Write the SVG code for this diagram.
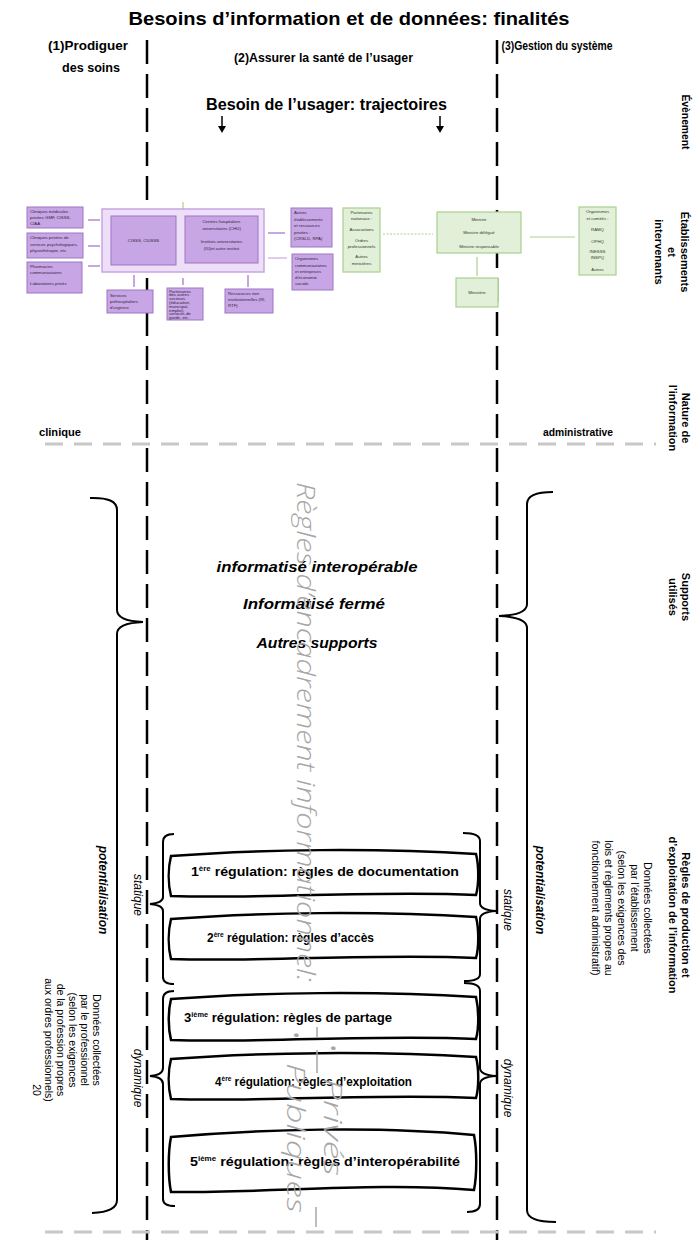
<svg xmlns="http://www.w3.org/2000/svg" width="698" height="1243" viewBox="0 0 698 1243">
<style>
text{font-family:"Liberation Sans",Arial,sans-serif;fill:#000}
.b{font-weight:bold}
.h{font-weight:bold;font-size:12px}
.lab{font-weight:bold;font-size:11px}
.it{font-style:italic;font-size:12px}
.bi{font-weight:bold;font-style:italic;font-size:14px}
.pot{font-weight:bold;font-style:italic;font-size:12px}
.reg{font-weight:bold;font-size:12.5px}
.dat{font-size:10.5px}
.nt{font-size:4.3px;fill:#2d1f3a}
.ng{font-size:4.3px;fill:#2f3b28}
.bp{fill:#c8a6e5;stroke:#9d74c7;stroke-width:1}
.bbig{fill:#eedff8;stroke:#c7a4e3;stroke-width:1.5}
.bg{fill:#e2efd9;stroke:#a9d18e;stroke-width:1.2}
.vd{stroke:#000;stroke-width:2.5;stroke-dasharray:24 10;fill:none}
.hd{stroke:#c8c8c8;stroke-width:3;stroke-dasharray:18 11;fill:none}
.br{stroke:#000;stroke-width:2;fill:none}
.cp{stroke:#b48ad8;stroke-width:1.5}
.cg{stroke:#a9d18e;stroke-width:1.2}
.wave{fill:#fff;stroke:#000;stroke-width:2.5}
.wm{font-family:"Open Sans","Liberation Sans",sans-serif;font-style:italic;font-weight:300;fill:#a6a6a6;font-size:25px}
</style>

<g id="lanes">
<line class="vd" x1="147" y1="40" x2="147" y2="1240"/>
<line class="vd" x1="497" y1="40" x2="497" y2="1240"/>
<line class="hd" x1="45" y1="444" x2="656" y2="444"/>
<line class="hd" x1="45" y1="1232" x2="656" y2="1232"/>
</g>

<g id="headers">
<text class="b" x="349" y="25" font-size="19" text-anchor="middle" textLength="441" lengthAdjust="spacingAndGlyphs">Besoins d’information et de données: finalités</text>
<text class="h" x="88" y="50" text-anchor="middle" textLength="80" lengthAdjust="spacingAndGlyphs">(1)Prodiguer</text>
<text class="h" x="91" y="72" text-anchor="middle" textLength="58" lengthAdjust="spacingAndGlyphs">des soins</text>
<text class="h" x="323.5" y="62" text-anchor="middle" textLength="179" lengthAdjust="spacingAndGlyphs">(2)Assurer la santé de l’usager</text>
<text class="h" x="557" y="50" text-anchor="middle" textLength="111" lengthAdjust="spacingAndGlyphs">(3)Gestion du système</text>
<text class="b" x="326.5" y="110" font-size="17" text-anchor="middle" textLength="241" lengthAdjust="spacingAndGlyphs">Besoin de l’usager: trajectoires</text>
</g>

<g id="arrows">
<line x1="222" y1="116" x2="222" y2="127" stroke="#000" stroke-width="1.5"/>
<polygon points="218,126 226,126 222,133" fill="#000"/>
<line x1="440" y1="116" x2="440" y2="127" stroke="#000" stroke-width="1.5"/>
<polygon points="436,126 444,126 440,133" fill="#000"/>
</g>

<g id="row-labels">
<text class="lab" transform="translate(682,122) rotate(90)" text-anchor="middle" textLength="55" lengthAdjust="spacingAndGlyphs">Évènement</text>
<text class="lab" transform="translate(681,252) rotate(90)" text-anchor="middle">Établissements</text>
<text class="lab" transform="translate(668,252) rotate(90)" text-anchor="middle">et</text>
<text class="lab" transform="translate(655,252) rotate(90)" text-anchor="middle">intervenants</text>
<text class="lab" transform="translate(682,418) rotate(90)" text-anchor="middle">Nature de</text>
<text class="lab" transform="translate(669,418) rotate(90)" text-anchor="middle">l’information</text>
<text class="lab" transform="translate(682,597) rotate(90)" text-anchor="middle">Supports</text>
<text class="lab" transform="translate(669,597) rotate(90)" text-anchor="middle">utilisés</text>
<text class="lab" transform="translate(682,915) rotate(90)" text-anchor="middle">Règles de production et</text>
<text class="lab" transform="translate(669,915) rotate(90)" text-anchor="middle">d’exploitation de  l’information</text>
</g>

<g id="connectors">
<line class="cp" x1="88" y1="220" x2="100" y2="220"/>
<line class="cp" x1="88" y1="246" x2="100" y2="246"/>
<line class="cp" x1="88" y1="266" x2="100" y2="266"/>
<line class="cp" x1="134" y1="275" x2="134" y2="287"/>
<line class="cp" x1="183" y1="278" x2="183" y2="285"/>
<line class="cp" x1="248" y1="275" x2="248" y2="287"/>
<line class="cp" x1="268" y1="233" x2="285" y2="233"/>
<line class="cp" x1="268" y1="258" x2="287" y2="258" stroke-opacity="0.6"/>
<line class="cg" x1="183" y1="202" x2="183" y2="209"/>
<line class="cg" x1="383" y1="234" x2="433" y2="234" stroke-dasharray="2 1.5"/>
<line class="cg" x1="477" y1="257" x2="477" y2="276"/>
<line class="cg" x1="530" y1="237" x2="575" y2="237" stroke-width="1.5"/>
</g>

<g id="n-cliniques-med">
<rect class="bp" x="27" y="207" width="56" height="21"/>
<text class="nt" x="30" y="213">Cliniques médicales</text>
<text class="nt" x="30" y="219">privées GMF, CISSS,</text>
<text class="nt" x="30" y="225">CIAA</text>
</g>
<g id="n-cliniques-psy">
<rect class="bp" x="27" y="233" width="56" height="25"/>
<text class="nt" x="30" y="239">Cliniques privées de</text>
<text class="nt" x="30" y="246">services psychologiques,</text>
<text class="nt" x="30" y="252">physiothérapie, etc.</text>
</g>
<g id="n-pharmacies">
<rect class="bp" x="27" y="262" width="55" height="31"/>
<text class="nt" x="30" y="268">Pharmacies</text>
<text class="nt" x="30" y="274">communautaires</text>
<text class="nt" x="30" y="285">Laboratoires privés</text>
</g>
<g id="n-reseau">
<rect class="bbig" x="102" y="209" width="162" height="63"/>
</g>
<g id="n-cisss">
<rect class="bp" x="111" y="216" width="65" height="49"/>
<text class="nt" x="143.5" y="242" text-anchor="middle">CISSS, CIUSSS</text>
</g>
<g id="n-chu">
<rect class="bp" x="185" y="216" width="73" height="47"/>
<text class="nt" x="221.5" y="223" text-anchor="middle">Centres hospitaliers</text>
<text class="nt" x="221.5" y="230" text-anchor="middle">universitaires (CHU)</text>
<text class="nt" x="221.5" y="243" text-anchor="middle">Instituts universitaires</text>
<text class="nt" x="221.5" y="250" text-anchor="middle">(IU)et autre institut</text>
</g>
<g id="n-prehosp">
<rect class="bp" x="107" y="290" width="46" height="23"/>
<text class="nt" x="110" y="297">Services</text>
<text class="nt" x="110" y="303">préhospitaliers</text>
<text class="nt" x="110" y="309">d’urgence</text>
</g>
<g id="n-partenaires">
<rect class="bp" x="167" y="288" width="36" height="32"/>
<text class="nt" x="169" y="292.5" font-size="3.6">Partenaires</text>
<text class="nt" x="169" y="296.3" font-size="3.6">des autres</text>
<text class="nt" x="169" y="300.1" font-size="3.6">secteurs</text>
<text class="nt" x="169" y="303.9" font-size="3.6">(éducation,</text>
<text class="nt" x="169" y="307.7" font-size="3.6">municipal,</text>
<text class="nt" x="169" y="311.5" font-size="3.6">emploi),</text>
<text class="nt" x="169" y="315.3" font-size="3.6">services de</text>
<text class="nt" x="169" y="319.1" font-size="3.6">garde, etc.</text>
</g>
<g id="n-ressources">
<rect class="bp" x="225" y="289" width="48" height="24"/>
<text class="nt" x="228" y="295">Ressources non</text>
<text class="nt" x="228" y="301">institutionnelles (RI,</text>
<text class="nt" x="228" y="307">RTF)</text>
</g>
<g id="n-autres-etab">
<rect class="bp" x="291" y="208" width="41" height="39"/>
<text class="nt" x="294" y="214">Autres</text>
<text class="nt" x="294" y="220.5">établissements</text>
<text class="nt" x="294" y="227">et ressources</text>
<text class="nt" x="294" y="233.5">privées :</text>
<text class="nt" x="294" y="240">(CRSLD, RPA)</text>
</g>
<g id="n-organismes-comm">
<rect class="bp" x="292" y="254" width="41" height="36"/>
<text class="nt" x="295" y="260">Organismes</text>
<text class="nt" x="295" y="266.5">communautaires</text>
<text class="nt" x="295" y="273">et entreprises</text>
<text class="nt" x="295" y="279">d’économie</text>
<text class="nt" x="295" y="285">sociale</text>
</g>
<g id="n-partenaires-nat">
<rect class="bg" x="343" y="208" width="37" height="64"/>
<text class="ng" x="361.5" y="214" text-anchor="middle">Partenaires</text>
<text class="ng" x="361.5" y="220" text-anchor="middle">nationaux :</text>
<text class="ng" x="361.5" y="231" text-anchor="middle">Associations</text>
<text class="ng" x="361.5" y="242" text-anchor="middle">Ordres</text>
<text class="ng" x="361.5" y="248" text-anchor="middle">professionnels</text>
<text class="ng" x="361.5" y="258" text-anchor="middle">Autres</text>
<text class="ng" x="361.5" y="264.5" text-anchor="middle">ministères</text>
</g>
<g id="n-ministre">
<rect class="bg" x="437" y="212" width="84" height="41"/>
<text class="ng" x="479" y="221" text-anchor="middle" font-size="5.5">Ministre</text>
<text class="ng" x="479" y="234" text-anchor="middle" font-size="5.5">Ministre délégué</text>
<text class="ng" x="479" y="248" text-anchor="middle" font-size="5.5">Ministre responsable</text>
</g>
<g id="n-ministere">
<rect class="bg" x="456" y="278" width="42" height="29"/>
<text class="ng" x="477" y="294" text-anchor="middle" font-size="5">Ministère</text>
</g>
<g id="n-organismes-comites">
<rect class="bg" x="579" y="207" width="37" height="68"/>
<text class="ng" x="597.5" y="213" text-anchor="middle" font-size="3.8">Organismes</text>
<text class="ng" x="597.5" y="219.5" text-anchor="middle" font-size="3.8">et comités :</text>
<text class="ng" x="597.5" y="231" text-anchor="middle" font-size="3.8">RAMQ</text>
<text class="ng" x="597.5" y="242.5" text-anchor="middle" font-size="3.8">OPHQ</text>
<text class="ng" x="597.5" y="252.5" text-anchor="middle" font-size="3.8">INESSS</text>
<text class="ng" x="597.5" y="258.5" text-anchor="middle" font-size="3.8">INSPQ</text>
<text class="ng" x="597.5" y="271" text-anchor="middle" font-size="3.8">Autres</text>
</g>

<g id="nature">
<text class="lab" x="60" y="436" text-anchor="middle" textLength="42" lengthAdjust="spacingAndGlyphs">clinique</text>
<text class="lab" x="578" y="436" text-anchor="middle" textLength="70" lengthAdjust="spacingAndGlyphs">administrative</text>
</g>

<g id="supports">
<text class="bi" x="317" y="572" text-anchor="middle" textLength="201" lengthAdjust="spacingAndGlyphs">informatisé  interopérable</text>
<text class="bi" x="314" y="609" text-anchor="middle" textLength="142" lengthAdjust="spacingAndGlyphs">Informatisé  fermé</text>
<text class="bi" x="317" y="648" text-anchor="middle" textLength="121" lengthAdjust="spacingAndGlyphs">Autres supports</text>
</g>

<g id="braces">
<path class="br" d="M 90,498 Q 117,497 117,510 L 117,610 Q 117,621 143,622 Q 117,623 117,634 L 117,1200 Q 117,1212 92,1213"/>
<path class="br" d="M 553,492 Q 527,492 527,504 L 527,604 Q 527,615 499,616 Q 527,617 527,628 L 527,1210 Q 527,1222 556,1222"/>
<path class="br" d="M 174,834 Q 163,834 163,842 L 163,897 Q 163,903 150,904 Q 163,905 163,911 L 163,977 Q 163,984 174,984"/>
<path class="br" d="M 174,991 Q 163,991 163,999 L 163,1068 Q 163,1075 150,1076 Q 163,1077 163,1084 L 163,1199 Q 163,1206 175,1206"/>
<path class="br" d="M 463,833 Q 480,833 480,841 L 480,903 Q 480,910 496,911 Q 480,912 480,919 L 480,974 Q 480,981 464,981"/>
<path class="br" d="M 464,983 Q 480,983 480,991 L 480,1068 Q 480,1075 496,1076 Q 480,1077 480,1084 L 480,1204 Q 480,1212 467,1212"/>
</g>

<g id="side-texts">
<text class="pot" transform="translate(99,890) rotate(90)" text-anchor="middle">potentialisation</text>
<text class="pot" transform="translate(536,890) rotate(90)" text-anchor="middle">potentialisation</text>
<text class="it" transform="translate(134,895) rotate(90)" text-anchor="middle">statique</text>
<text class="it" transform="translate(134,1078) rotate(90)" text-anchor="middle">dynamique</text>
<text class="it" transform="translate(504,910) rotate(90)" text-anchor="middle">statique</text>
<text class="it" transform="translate(504,1088) rotate(90)" text-anchor="middle">dynamique</text>
<text class="dat" transform="translate(93,1040) rotate(90)" text-anchor="middle">Données collectées</text>
<text class="dat" transform="translate(81,1040) rotate(90)" text-anchor="middle">par le professionnel</text>
<text class="dat" transform="translate(69,1040) rotate(90)" text-anchor="middle">(selon les exigences</text>
<text class="dat" transform="translate(57,1040) rotate(90)" text-anchor="middle">de la profession propres</text>
<text class="dat" transform="translate(45,1040) rotate(90)" text-anchor="middle">aux ordres professionnels)</text>
<text class="dat" transform="translate(33,1090) rotate(90)" text-anchor="middle">20</text>
<text class="dat" transform="translate(644,908) rotate(90)" text-anchor="middle">Données collectées</text>
<text class="dat" transform="translate(631,908) rotate(90)" text-anchor="middle">par l’établissement</text>
<text class="dat" transform="translate(618,908) rotate(90)" text-anchor="middle">(selon les exigences des</text>
<text class="dat" transform="translate(605,908) rotate(90)" text-anchor="middle">lois et règlements propres au</text>
<text class="dat" transform="translate(592,908) rotate(90)" text-anchor="middle">fonctionnement administratif)</text>
</g>

<g id="reg1">
<path class="wave" d="M 171,856 C 260,849 380,848 476,854 C 479,866 479,884 476,895 C 380,890 270,899 171,896 C 168,884 168,868 171,856 Z"/>
<text class="reg" x="325" y="876" text-anchor="middle" textLength="268" lengthAdjust="spacingAndGlyphs">1<tspan font-size="7" dy="-5">ère</tspan><tspan dy="5"> régulation: règles de documentation</tspan></text>
</g>
<g id="reg2">
<path class="wave" d="M 171,919 C 260,912 380,911 476,917 C 479,929 479,947 476,958 C 380,953 270,962 171,959 C 168,947 168,931 171,919 Z"/>
<text class="reg" x="290.5" y="942" text-anchor="middle" textLength="167" lengthAdjust="spacingAndGlyphs">2<tspan font-size="7" dy="-5">ère</tspan><tspan dy="5"> régulation: règles d’accès</tspan></text>
</g>
<g id="reg3">
<path class="wave" d="M 171,999 C 260,992 380,991 476,997 C 479,1010 479,1028 476,1039 C 380,1034 270,1043 171,1040 C 168,1028 168,1011 171,999 Z"/>
<text class="reg" x="288" y="1022" text-anchor="middle" textLength="208" lengthAdjust="spacingAndGlyphs">3<tspan font-size="7" dy="-5">ième</tspan><tspan dy="5"> régulation: règles de partage</tspan></text>
</g>
<g id="reg4">
<path class="wave" d="M 171,1059 C 260,1052 380,1051 476,1057 C 479,1069 479,1087 476,1098 C 380,1093 270,1102 171,1099 C 168,1087 168,1071 171,1059 Z"/>
<text class="reg" x="313.5" y="1086" text-anchor="middle" textLength="197" lengthAdjust="spacingAndGlyphs">4<tspan font-size="7" dy="-5">ère</tspan><tspan dy="5"> régulation: règles d’exploitation</tspan></text>
</g>
<g id="reg5">
<path class="wave" d="M 171,1137 C 260,1129 380,1126 474,1135 C 477,1150 477,1175 474,1190 C 380,1182 270,1193 171,1192 C 168,1177 168,1152 171,1137 Z"/>
<text class="reg" x="325" y="1166" text-anchor="middle" textLength="270" lengthAdjust="spacingAndGlyphs">5<tspan font-size="7" dy="-5">ième</tspan><tspan dy="5"> régulation: règles d’interopérabilité</tspan></text>
</g>

<g id="watermark">
<text class="wm" transform="translate(297,482) rotate(90)" textLength="500" lengthAdjust="spacingAndGlyphs">Règles d’encadrement informationnel:</text>
<text class="wm" transform="translate(287,1030) rotate(90)">•</text>
<text class="wm" transform="translate(287,1063) rotate(90)" textLength="150" lengthAdjust="spacingAndGlyphs">Publiques</text>
<text class="wm" transform="translate(324,1043) rotate(90)">•</text>
<text class="wm" transform="translate(324,1078) rotate(90)" textLength="98" lengthAdjust="spacingAndGlyphs">Privés</text>
<line x1="317" y1="1027" x2="317" y2="1038" stroke="#a6a6a6" stroke-width="1.5"/>
<line x1="317" y1="1050" x2="317" y2="1073" stroke="#a6a6a6" stroke-width="1.5"/>
<line x1="316" y1="1207" x2="316" y2="1227" stroke="#a6a6a6" stroke-width="1.5"/>
</g>
</svg>
